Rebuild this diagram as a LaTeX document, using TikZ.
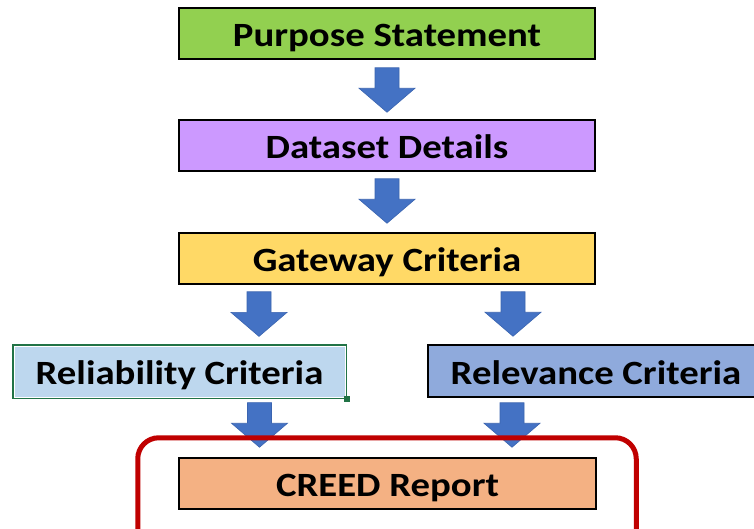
\documentclass[tikz,border=0pt]{standalone}
\usepackage{fontspec}
\setmainfont{Carlito}[FakeStretch=1.14]
\usetikzlibrary{calc}
\definecolor{psgreen}{HTML}{92D050}
\definecolor{ddpurple}{HTML}{CC99FF}
\definecolor{gcyellow}{HTML}{FFD966}
\definecolor{rlblue}{HTML}{BDD7EE}
\definecolor{rvblue}{HTML}{8FAADC}
\definecolor{crorange}{HTML}{F4B183}
\definecolor{arrblue}{HTML}{4472C4}
\definecolor{arredge}{HTML}{3A64B0}
\definecolor{xlgreen}{HTML}{217346}
\definecolor{frred}{HTML}{C00000}
\tikzset{
  stagebox/.style={draw=black, line width=1.5pt, minimum height=51pt, inner sep=0pt,
    font=\fontsize{34}{40}\selectfont\bfseries, text=black, text height=26.4pt, text depth=0pt},
  barrow/.style={fill=arrblue, draw=arredge, line width=0.6pt, line join=miter},
  redframe/.style={draw=frred, line width=5pt, rounded corners=21pt}
}
\newcommand\blockarr[2]{%
  \path[barrow] let \p1=#1, \p2=#2 in
    (\x1-12pt,\y1) -- (\x1+12pt,\y1) -- (\x1+12pt,\y2+24pt) -- (\x1+28pt,\y2+24pt)
    -- (\x1,\y2) -- (\x1-28pt,\y2+24pt) -- (\x1-12pt,\y2+24pt) -- cycle;}
\begin{document}
\begin{tikzpicture}[x=1pt,y=-1pt]
\useasboundingbox[fill=white] (0,0) rectangle (754,528);
\node[stagebox, fill=psgreen, minimum width=416pt] (ps) at (387,33.5) {Purpose Statement};
\node[stagebox, fill=ddpurple, minimum width=416pt] (dd) at (387,145.5) {Dataset Details};
\node[stagebox, fill=gcyellow, minimum width=416pt] (gc) at (387,258.5) {Gateway Criteria};
\node[stagebox, fill=rlblue, draw=xlgreen, line width=1.2pt, minimum width=333pt, minimum height=53pt] (rl) at (179.5,371.5) {Reliability Criteria};
\draw[white, line width=1pt] ($(rl.north west)+(1.6,1.6)$) rectangle ($(rl.south east)+(-1.6,-1.6)$);
\node[fill=xlgreen, minimum size=6pt, inner sep=0pt] (hd) at (rl.south east) {};
\node[stagebox, fill=rvblue, minimum width=336pt, minimum height=52pt] (rv) at (596,371) {Relevance Criteria};
\node[stagebox, fill=crorange, minimum width=417pt] (cr) at (387.5,483.5) {CREED Report};
\blockarr{($(ps.south)+(0,8)$)}{($(dd.north)+(0,-7)$)}
\blockarr{($(dd.south)+(0,7)$)}{($(gc.north)+(0,-9)$)}
\blockarr{($(gc.south)+(-128,7)$)}{($(rl.north)+(0,-8)$)}
\blockarr{($(gc.south)+(126,7)$)}{($(rv.north)+(0,-8)$)}
\blockarr{($(rl.south)+(80,4)$)}{($(cr.north)+(0,-10)$)}
\blockarr{($(rv.south)+(-84,5)$)}{($(cr.north)+(0,-10)$)}
\draw[redframe] ($(cr.north west)+(-40.5,-19.5)$) rectangle ($(cr.south east)+(39.5,60)$);
\end{tikzpicture}
\end{document}
